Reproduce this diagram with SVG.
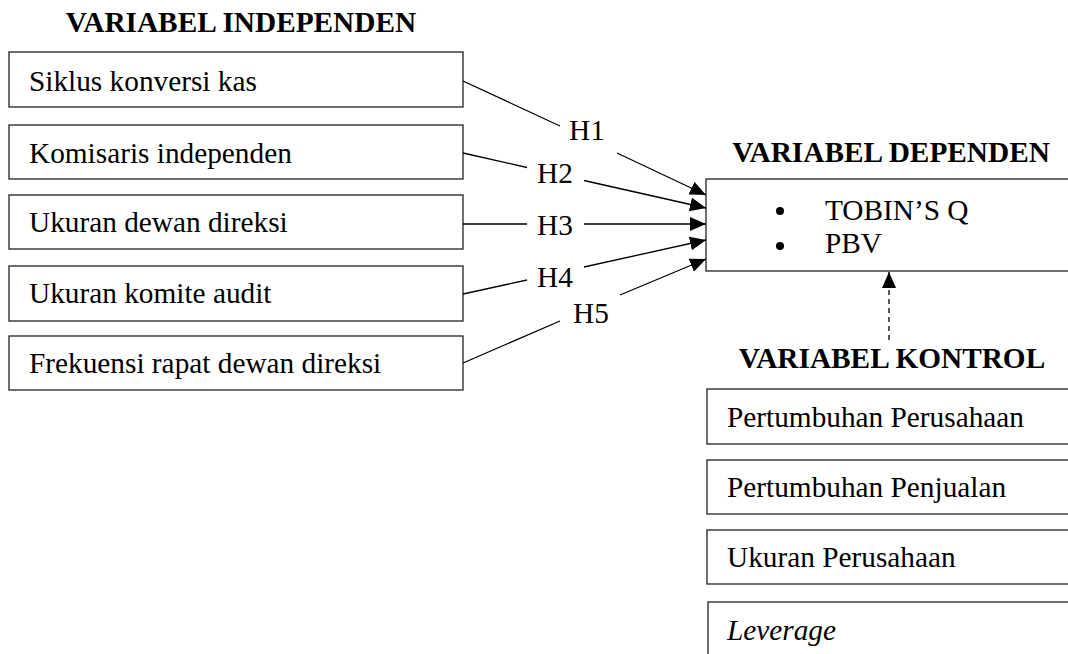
<svg xmlns="http://www.w3.org/2000/svg" width="1068" height="654" viewBox="0 0 1068 654">
<defs>
<style>
text{font-family:"Liberation Serif","Times New Roman",serif;font-size:29.3px;fill:#000}
.t{font-weight:bold;text-anchor:middle}
.box{fill:#fff;stroke:#222;stroke-width:1.3}
.con{fill:none;stroke:#000;stroke-width:1.3}
</style>
<marker id="ah" viewBox="0 0 16 14" refX="16" refY="7" markerWidth="16" markerHeight="14" markerUnits="userSpaceOnUse" orient="auto">
<path d="M0,0 L16,7 L0,14 Z" fill="#000"/>
</marker>
</defs>
<rect width="1068" height="654" fill="#fff"/>
<g id="title-independen"><text class="t" x="241" y="32">VARIABEL INDEPENDEN</text></g>
<g id="n1"><rect class="box" x="9" y="52" width="454" height="55"/><text x="29" y="91">Siklus konversi kas</text></g>
<g id="n2"><rect class="box" x="9" y="125" width="454" height="54"/><text x="29" y="163">Komisaris independen</text></g>
<g id="n3"><rect class="box" x="9" y="195" width="454" height="54"/><text x="29" y="232">Ukuran dewan direksi</text></g>
<g id="n4"><rect class="box" x="9" y="266" width="454" height="55"/><text x="29" y="303">Ukuran komite audit</text></g>
<g id="n5"><rect class="box" x="9" y="336" width="454" height="54"/><text x="29" y="373">Frekuensi rapat dewan direksi</text></g>
<g id="title-dependen"><text class="t" x="891" y="162">VARIABEL DEPENDEN</text></g>
<g id="dep"><rect class="box" x="706" y="179" width="380" height="92"/>
<circle cx="780" cy="211" r="4"/><circle cx="780" cy="246" r="4"/>
<text x="825" y="220">TOBIN’S Q</text><text x="825" y="253">PBV</text></g>
<g id="title-kontrol"><text class="t" x="892" y="368">VARIABEL KONTROL</text></g>
<g id="c1"><rect class="box" x="707" y="389" width="380" height="55"/><text x="727" y="427">Pertumbuhan Perusahaan</text></g>
<g id="c2"><rect class="box" x="707" y="460" width="380" height="54"/><text x="727" y="497">Pertumbuhan Penjualan</text></g>
<g id="c3"><rect class="box" x="707" y="530" width="380" height="54"/><text x="727" y="567">Ukuran Perusahaan</text></g>
<g id="c4"><rect class="box" x="708" y="602" width="380" height="70"/><text x="727" y="640" font-style="italic">Leverage</text></g>
<g id="connectors">
<path class="con" d="M463,81 L560,126 M617,153 L706,195" marker-end="url(#ah)"/>
<path class="con" d="M463,153 L527,167.5 M584,180.5 L706,208" marker-end="url(#ah)"/>
<path class="con" d="M463,224 L527,224 M584,224 L706,224" marker-end="url(#ah)"/>
<path class="con" d="M463,294 L527,280 M584,267 L706,240" marker-end="url(#ah)"/>
<path class="con" d="M463,363 L560,321 M620,295 L706,259" marker-end="url(#ah)"/>
<path class="con" d="M889,340 L889,272" stroke-dasharray="5,4" marker-end="url(#ah)"/>
<text x="569" y="140">H1</text>
<text x="537" y="183">H2</text>
<text x="537" y="235">H3</text>
<text x="537" y="287">H4</text>
<text x="573" y="323">H5</text>
</g>
</svg>
